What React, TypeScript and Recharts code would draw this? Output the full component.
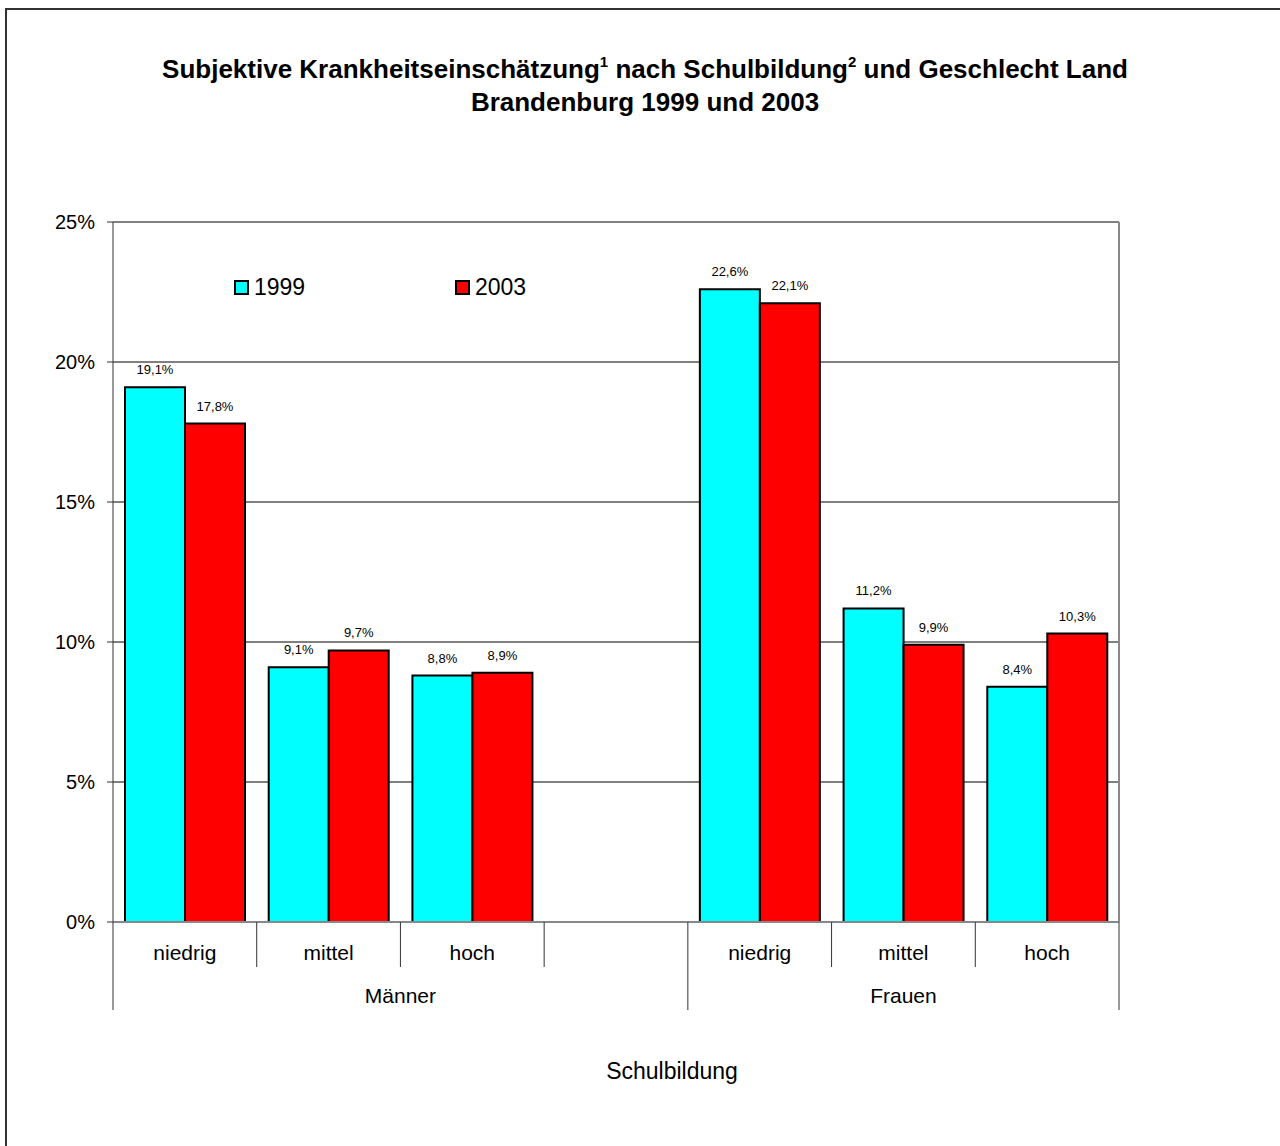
import React from "react";
import {
  BarChart,
  Bar,
  XAxis,
  YAxis,
  CartesianGrid,
  LabelList,
  Legend,
} from "recharts";

const levels = ["niedrig", "mittel", "hoch", "", "niedrig", "mittel", "hoch"];
const values1999 = [19.1, 9.1, 8.8, null, 22.6, 11.2, 8.4];
const values2003 = [17.8, 9.7, 8.9, null, 22.1, 9.9, 10.3];
const groups = [
  { name: "Männer", start: 0, span: 4 },
  { name: "Frauen", start: 4, span: 3 },
];
const yTicks = [0, 5, 10, 15, 20, 25];

const data = levels.map((level, i) => ({
  id: i,
  level,
  y1999: values1999[i],
  y2003: values2003[i],
}));

const W = 1280;
const H = 1146;
const Y_AXIS_W = 60;
const Y_RIGHT_W = 1;
const X_AXIS_H = 88;
const MARGIN = {
  top: 222,
  right: 161 - Y_RIGHT_W,
  bottom: H - 922 - X_AXIS_H,
  left: 113 - Y_AXIS_W,
};
const PLOT_W = W - MARGIN.left - MARGIN.right - Y_AXIS_W - Y_RIGHT_W;
const BAND = PLOT_W / levels.length;
const FONT = "'Liberation Sans', Arial, Helvetica, sans-serif";

const fmtPct = (v: any) =>
  v == null ? "" : `${Number(v).toFixed(1).replace(".", ",")}%`;

function LevelTick(props: any) {
  const { x, y, payload } = props;
  const index = payload.index ?? props.index;
  const left = x - BAND / 2;
  const group = groups.find((g) => g.start === index);
  const isLast = index === levels.length - 1;
  return (
    <g>
      <text
        x={x}
        y={y + 30}
        textAnchor="middle"
        dominantBaseline="central"
        fontSize={21}
        fontFamily={FONT}
        fill="#000"
      >
        {levels[index]}
      </text>
      <line x1={left} x2={left} y1={y} y2={y + (group ? 88 : 45)} stroke="#333" />
      {group && (
        <text
          x={left + (group.span * BAND) / 2}
          y={y + 73}
          textAnchor="middle"
          dominantBaseline="central"
          fontSize={21}
          fontFamily={FONT}
          fill="#000"
        >
          {group.name}
        </text>
      )}
      {isLast && (
        <line x1={x + BAND / 2} x2={x + BAND / 2} y1={y} y2={y + 88} stroke="#333" />
      )}
    </g>
  );
}

function LegendBox({ payload }: any) {
  return (
    <div style={{ display: "flex", fontFamily: FONT }}>
      {(payload || []).map((p: any) => (
        <div
          key={p.value}
          style={{ width: 221, height: 28, display: "flex", alignItems: "center" }}
        >
          <span
            style={{
              width: 11,
              height: 11,
              background: p.color,
              border: "2px solid #000",
              marginRight: 5,
            }}
          />
          <span style={{ fontSize: 23, color: "#000" }}>{p.value}</span>
        </div>
      ))}
    </div>
  );
}

const supStyle: React.CSSProperties = {
  fontSize: 15,
  verticalAlign: "baseline",
  position: "relative",
  top: -11,
  lineHeight: 0,
};

export default function App() {
  return (
    <div
      style={{
        position: "absolute",
        left: 0,
        top: 0,
        width: W,
        height: H,
        background: "#fff",
        fontFamily: FONT,
        overflow: "hidden",
      }}
    >
      {/* frame */}
      <div
        style={{
          position: "absolute",
          left: 5,
          top: 8,
          width: W,
          height: H,
          borderTop: "2px solid #333",
          borderLeft: "2px solid #333",
        }}
      />
      {/* title */}
      <div
        style={{
          position: "absolute",
          left: 5,
          top: 53,
          width: W,
          textAlign: "center",
          fontWeight: "bold",
          fontSize: 26,
          lineHeight: "33px",
          color: "#000",
        }}
      >
        Subjektive Krankheitseinschätzung<span style={supStyle}>1</span> nach
        Schulbildung<span style={supStyle}>2</span> und Geschlecht Land
        <br />
        Brandenburg 1999 und 2003
      </div>
      <div style={{ position: "absolute", left: 0, top: 0 }}>
        <BarChart width={W} height={H} data={data} margin={MARGIN} barGap={0}>
          <CartesianGrid horizontal vertical={false} stroke="#000" />
          <XAxis
            dataKey="id"
            interval={0}
            height={X_AXIS_H}
            tickSize={0}
            tickMargin={0}
            tickLine={false}
            axisLine={{ stroke: "#888", strokeWidth: 2 }}
            tick={<LevelTick />}
          />
          <XAxis
            xAxisId="top"
            dataKey="id"
            orientation="top"
            height={0}
            tick={false}
            tickLine={false}
            axisLine={{ stroke: "#888", strokeWidth: 2 }}
          />
          <YAxis
            width={Y_AXIS_W}
            domain={[0, 25]}
            ticks={yTicks}
            tickFormatter={(v) => `${v}%`}
            tickSize={6}
            tickMargin={12}
            tick={{ fontSize: 20, fill: "#000", fontFamily: FONT }}
            axisLine={{ stroke: "#333" }}
            tickLine={{ stroke: "#333" }}
          />
          <YAxis
            yAxisId="right"
            orientation="right"
            width={Y_RIGHT_W}
            domain={[0, 25]}
            tick={false}
            tickLine={false}
            axisLine={{ stroke: "#888", strokeWidth: 2 }}
          />
          <Legend
            layout="horizontal"
            verticalAlign="middle"
            content={<LegendBox />}
            wrapperStyle={{ left: 234, top: 273, width: 460, height: 28 }}
          />
          <Bar
            dataKey="y1999"
            name="1999"
            fill="#00FFFF"
            stroke="#000"
            strokeWidth={2}
            barSize={60}
            isAnimationActive={false}
          >
            <LabelList
              dataKey="y1999"
              position="top"
              offset={13}
              formatter={fmtPct}
              style={{ fontSize: 13, fill: "#000", fontFamily: FONT }}
            />
          </Bar>
          <Bar
            dataKey="y2003"
            name="2003"
            fill="#FF0000"
            stroke="#000"
            strokeWidth={2}
            barSize={60}
            isAnimationActive={false}
          >
            <LabelList
              dataKey="y2003"
              position="top"
              offset={13}
              formatter={fmtPct}
              style={{ fontSize: 13, fill: "#000", fontFamily: FONT }}
            />
          </Bar>
        </BarChart>
      </div>
      <div
        style={{
          position: "absolute",
          left: 472,
          width: 400,
          top: 1057,
          textAlign: "center",
          fontSize: 23,
          lineHeight: "28px",
          color: "#000",
        }}
      >
        Schulbildung
      </div>
    </div>
  );
}
